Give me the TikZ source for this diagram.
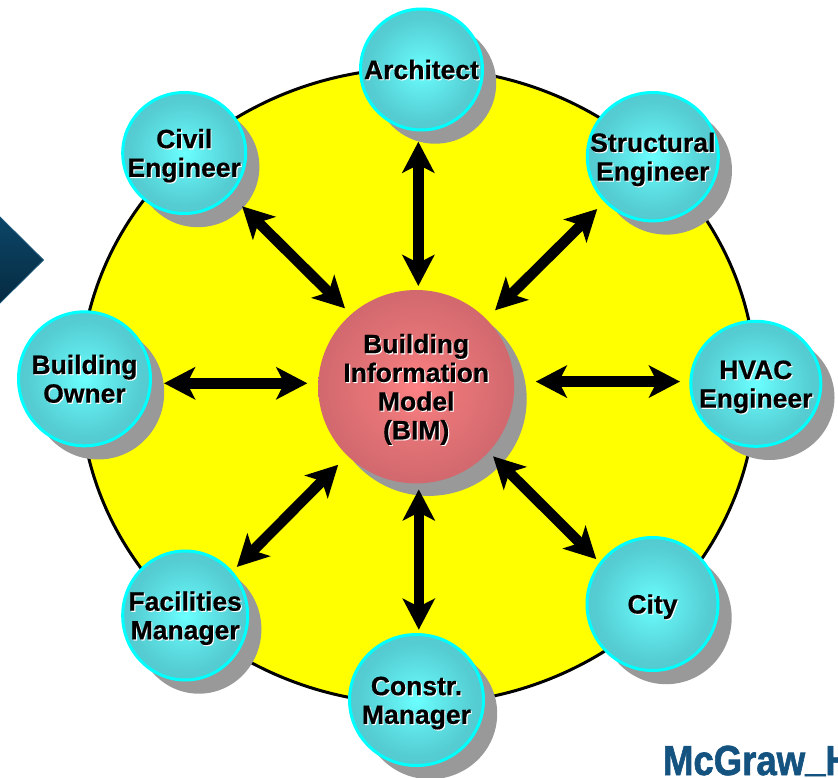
\documentclass[tikz,border=0pt]{standalone}
\usepackage{fontspec}
\setmainfont[BoldFeatures={FakeBold=0.5}]{Liberation Sans}
\newfontfamily\logofont[BoldFeatures={FakeBold=1.6}]{Liberation Sans}
\usetikzlibrary{arrows.meta,shapes.geometric,shadows}
\definecolor{ringyellow}{RGB}{255,255,0}
\definecolor{rimcyan}{RGB}{0,255,255}
\definecolor{shadowgray}{RGB}{153,153,153}
\definecolor{logoblue}{RGB}{20,82,128}
\pgfdeclareradialshading{tealball}{\pgfpoint{0bp}{0bp}}{rgb(0bp)=(.42,1,1);rgb(9bp)=(.38,.91,.92);rgb(22bp)=(.33,.80,.82);rgb(50bp)=(.33,.76,.78)}
\pgfdeclareradialshading{redball}{\pgfpoint{0bp}{0bp}}{rgb(0bp)=(1,.51,.52);rgb(10bp)=(.91,.46,.47);rgb(25bp)=(.82,.41,.43);rgb(50bp)=(.78,.39,.41)}
\pgfdeclareverticalshading{navyfade}{100bp}{rgb(0bp)=(.01,.11,.17);rgb(100bp)=(.06,.33,.49)}
\newcommand{\emb}[1]{\leavevmode\rlap{\kern1.1pt\raisebox{-1.1pt}{\textcolor{white}{#1}}}#1}
\newcommand{\ballt}[1]{\makebox[0pt][c]{\raisebox{-10pt}[0pt][0pt]{\begin{tabular}[c]{@{}c@{}}#1\end{tabular}}}}
\tikzset{
  ballshadow/.style={general shadow={fill=shadowgray,draw=none,shadow xshift=13.7pt,shadow yshift=-13.7pt}},
  party/.style={ellipse,inner sep=0pt,outer sep=0pt,ballshadow,shade,shading=tealball,draw=rimcyan,line width=3pt,
    font=\fontsize{26.5}{28.7}\selectfont\bfseries,text=black},
  hub/.style={party,general shadow={fill=shadowgray,draw=none,shadow xshift=12.5pt,shadow yshift=-12.5pt},shading=redball,draw=none},
  ring/.style={ellipse,inner sep=0pt,outer sep=0pt,fill=ringyellow,draw=black,line width=3pt},
  link/.style={line width=10.5pt,draw=black,{Stealth[length=31pt,width=32pt,inset=8pt]}-{Stealth[length=31pt,width=32pt,inset=8pt]}},
  logotext/.style={anchor=base west,inner sep=0pt,outer sep=0pt,text=logoblue,font=\logofont\fontsize{42}{42}\selectfont\bfseries}
}
\begin{document}
\begin{tikzpicture}[x=1pt,y=-1pt]
\useasboundingbox (0,0) rectangle (838,778);
\shade[shading=navyfade,draw={rgb,255:red,27;green,85;blue,120},line width=.8pt] (-3,214) -- (43.5,260) -- (-3,306) -- cycle;
\node[ring,minimum width=676pt,minimum height=636pt] (rim) at (418,386) {};
\node[ellipse,inner sep=0pt,outer sep=0pt,general shadow={fill=shadowgray,draw=none,shadow xshift=12.5pt,shadow yshift=-12.5pt},shade,shading=redball,font=\fontsize{26.5}{28.7}\selectfont\bfseries,text=black,minimum width=196pt,minimum height=193.4pt] (bim) at (416.2,386.7) {\ballt{\emb{Building}\\\emb{Information}\\\emb{Model}\\\emb{(BIM)}}};
\node[party,minimum width=122pt,minimum height=121pt] (arch) at (421.5,69.5) {\ballt{\emb{Architect}}};
\node[party,minimum width=123pt,minimum height=121pt] (civil) at (184.2,153) {\ballt{\emb{Civil}\\\emb{Engineer}}};
\node[party,minimum width=131pt,minimum height=128.4pt] (struct) at (652.8,156.7) {\ballt{\emb{Structural}\\\emb{Engineer}}};
\node[party,minimum width=130pt,minimum height=125pt] (hvac) at (755.8,383.8) {\ballt{\emb{HVAC}\\\emb{Engineer}}};
\node[party,minimum width=131pt,minimum height=133pt] (city) at (652.5,604) {\ballt{\emb{City}}};
\node[party,minimum width=134pt,minimum height=131pt] (constr) at (416.5,700) {\ballt{\emb{Constr.}\\\emb{Manager}}};
\node[party,minimum width=125pt,minimum height=129pt] (fac) at (185.2,615.5) {\ballt{\emb{Facilities}\\\emb{Manager}}};
\node[party,minimum width=132pt,minimum height=134pt] (owner) at (84.5,378.8) {\ballt{\emb{Building}\\\emb{Owner}}};
\draw[link,shorten <=11.8pt,shorten >=4pt] (arch.-93.5) -- (arch.-93.5 |- bim.north);
\draw[link,shorten <=17.7pt,shorten >=8.6pt] (civil.-42.5) -- (bim.132.8);
\draw[link,shorten <=11.4pt,shorten >=12.4pt] (struct.-137.7) -- (bim.44.3);
\draw[link,shorten <=10.8pt,shorten >=21.7pt] (bim.3.9 -| hvac.west) -- (bim.3.9);
\draw[link,shorten <=6.1pt,shorten >=6.3pt] (city.142.1) -- (bim.-42.3);
\draw[link,shorten <=4.8pt,shorten >=6pt] (constr.88.7) -- (constr.88.7 |- bim.south);
\draw[link,shorten <=7.5pt,shorten >=13pt] (fac.43.3) -- (bim.225.2);
\draw[link,shorten <=13.5pt,shorten >=10.9pt] (bim.178.6 -| owner.east) -- (bim.178.6);
\node[logotext] (logo) at (663,775) {\scalebox{.87}[1]{McGraw\raisebox{4pt}{\_}H}};
\end{tikzpicture}
\end{document}
